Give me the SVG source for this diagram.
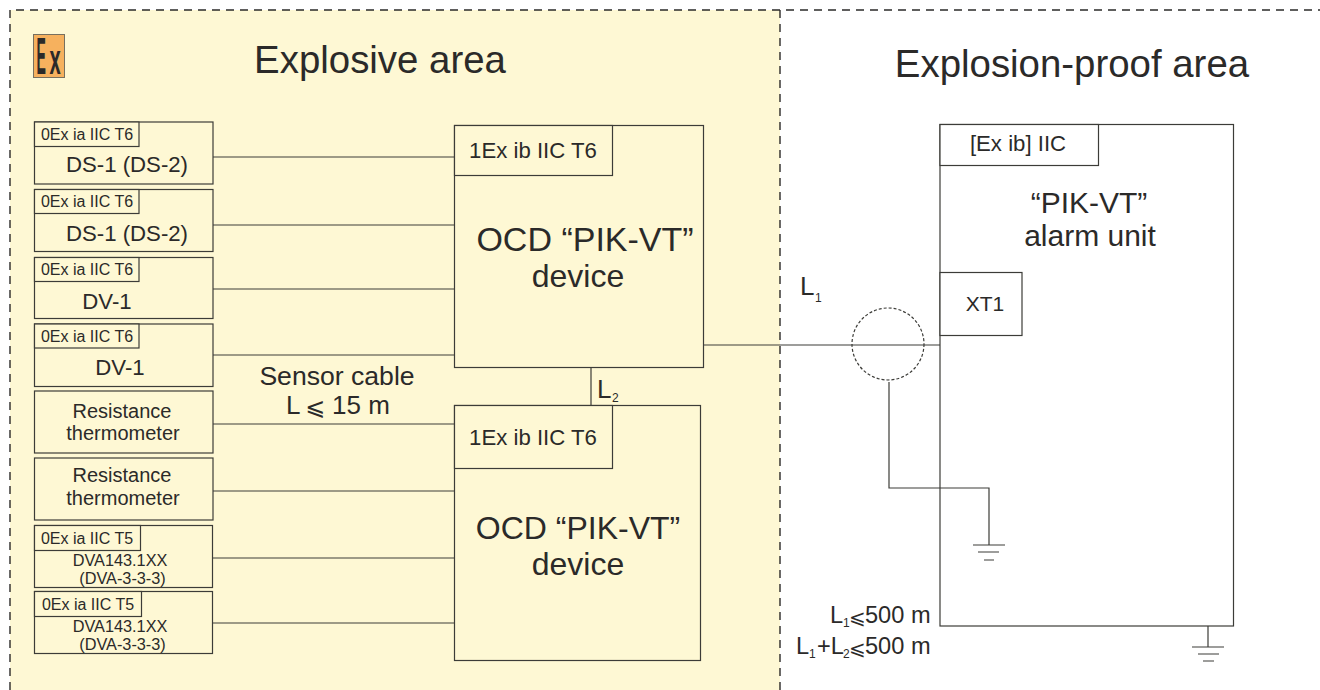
<svg xmlns="http://www.w3.org/2000/svg" width="1320" height="690" viewBox="0 0 1320 690">
<style>
text{font-family:"Liberation Sans",Arial,"DejaVu Sans",sans-serif;fill:#2b2a29;text-anchor:middle}
.b{fill:#fef8d4;stroke:#3c3c38;stroke-width:1.2}
.w{fill:#fff;stroke:#3c3c38;stroke-width:1.2}
.c{fill:none;stroke:#3c3c38;stroke-width:1.2}
.t{font-size:16px}
.s{font-size:22.2px}
.m{font-size:26.6px}
.d{font-size:20px}
.v{font-size:16.3px}
.l{font-size:32px}
.h{font-size:38.4px}
.r{font-size:26px;text-anchor:start}
.q{font-size:23.6px;text-anchor:start}
.e{font-size:20px;text-anchor:start}
.u{font-size:12px;text-anchor:start}
</style>
<rect id="explosive-area" x="10" y="10" width="770" height="680" fill="#fef8d4"/>
<g id="boundary" fill="none" stroke="#2b2a29" stroke-width="1.4" stroke-dasharray="8 6">
<path d="M10 690V10H1320"/>
<path d="M780 10V690"/>
</g>
<g id="ex-logo">
<rect x="33.500" y="34.500" width="31" height="43" fill="#f6b15e" stroke="#77705f" stroke-width="1"/>
<text transform="translate(36.500 74) scale(.27 1)" font-size="52" style="fill:#2b2a29;font-weight:700;text-anchor:start">E</text>
<text transform="translate(49.500 74) scale(.48 1)" font-size="42" style="fill:#2b2a29;font-weight:700;text-anchor:start">x</text>
</g>
<text class="h" x="380" y="73">Explosive area</text>
<text class="h" x="1072" y="77">Explosion-proof area</text>
<g id="s1"><rect class="b" x="34.500" y="122" width="178.500" height="62"/><rect class="b" x="34.500" y="122" width="104.500" height="24.500"/><text class="t" x="87" y="140">0Ex ia IIC T6</text><text class="s" x="127" y="172">DS-1 (DS-2)</text></g>
<g id="s2"><rect class="b" x="34.500" y="189.500" width="178.500" height="62"/><rect class="b" x="34.500" y="189.500" width="104.500" height="24"/><text class="t" x="87" y="207">0Ex ia IIC T6</text><text class="s" x="127" y="241">DS-1 (DS-2)</text></g>
<g id="s3"><rect class="b" x="34.500" y="257.500" width="178.500" height="61"/><rect class="b" x="34.500" y="257.500" width="104.500" height="24"/><text class="t" x="87" y="275">0Ex ia IIC T6</text><text class="s" x="107" y="309">DV-1</text></g>
<g id="s4"><rect class="b" x="34.500" y="324" width="178.500" height="62.500"/><rect class="b" x="34.500" y="324" width="104.500" height="24"/><text class="t" x="87" y="342">0Ex ia IIC T6</text><text class="s" x="120" y="375">DV-1</text></g>
<g id="s5"><rect class="b" x="34.500" y="391" width="178.500" height="62"/><text class="d" x="122" y="418">Resistance</text><text class="d" x="123" y="440">thermometer</text></g>
<g id="s6"><rect class="b" x="34.500" y="458" width="178.500" height="62"/><text class="d" x="122" y="482">Resistance</text><text class="d" x="123" y="505">thermometer</text></g>
<g id="s7"><rect class="b" x="34.500" y="525.500" width="178" height="62"/><rect class="b" x="34.500" y="525.500" width="106" height="25"/><text class="t" x="87" y="544">0Ex ia IIC T5</text><text class="v" x="120" y="566">DVA143.1XX</text><text class="v" x="122.500" y="584">(DVA-3-3-3)</text></g>
<g id="s8"><rect class="b" x="34.500" y="591.500" width="178" height="62"/><rect class="b" x="34.500" y="591.500" width="107" height="25"/><text class="t" x="88" y="610">0Ex ia IIC T5</text><text class="v" x="120" y="632">DVA143.1XX</text><text class="v" x="122.500" y="650">(DVA-3-3-3)</text></g>
<g id="device1"><rect class="b" x="454.500" y="125.500" width="249" height="242"/><rect class="b" x="454.500" y="125.500" width="158" height="50"/><text class="s" x="533" y="158">1Ex ib IIC T6</text><text class="l" x="585" y="251" style="font-size:34px">OCD “PIK-VT”</text><text class="l" x="578" y="287">device</text></g>
<g id="device2"><rect class="b" x="454.500" y="405.500" width="246" height="255"/><rect class="b" x="454.500" y="405.500" width="158" height="63"/><text class="s" x="533" y="445">1Ex ib IIC T6</text><text class="l" x="578" y="539">OCD “PIK-VT”</text><text class="l" x="578" y="575">device</text></g>
<text class="m" x="337" y="385">Sensor cable</text>
<g id="sensor-limit"><text class="r" x="286" y="414">L</text><text class="e" x="305" y="415" style="font-size:24px">⩽</text><text class="r" x="332" y="414">15 m</text></g>
<text class="r" x="597" y="398">L</text><text class="u" x="612" y="402">2</text>
<g id="alarm-unit"><rect class="w" x="940" y="124.500" width="293.500" height="501.500"/><rect class="w" x="940" y="124.500" width="158.500" height="41"/><text class="s" x="1018" y="151">[Ex ib] IIC</text><text class="l" x="1089" y="213" style="font-size:30px">“PIK-VT”</text><text class="l" x="1090" y="246" style="font-size:30px">alarm unit</text></g>
<g id="xt1"><rect class="w" x="940" y="272.500" width="82" height="63"/><text class="s" x="985" y="311" style="font-size:21px">XT1</text></g>
<text class="r" x="800" y="295">L</text><text class="u" x="815" y="302">1</text>
<g id="limits">
<text class="q" x="830" y="623">L</text><text class="u" x="843" y="627">1</text><text class="e" x="849" y="624">⩽</text><text class="q" x="865" y="623">500 m</text>
<text class="q" x="796" y="654">L</text><text class="u" x="809" y="658">1</text><text class="q" x="817" y="654">+L</text><text class="u" x="843" y="658">2</text><text class="e" x="849" y="655">⩽</text><text class="q" x="865" y="654">500 m</text>
</g>
<g id="connectors">
<path class="c" d="M213 157H454M213 225H454M213 289H454M213 355H454M213 424H454M213 491H454M213 558H454M213 623H454M591 368V405M704 345H940"/>
<circle class="c" cx="888" cy="344" r="36" stroke-dasharray="3 2" stroke-width="1"/>
<path class="c" d="M889 382V488H989V545M973 545H1005M978 552H999M984 560H994"/>
<path class="c" d="M1208 626V647M1192 647H1224M1198 654H1219M1203 661H1214"/>
</g>
</svg>
